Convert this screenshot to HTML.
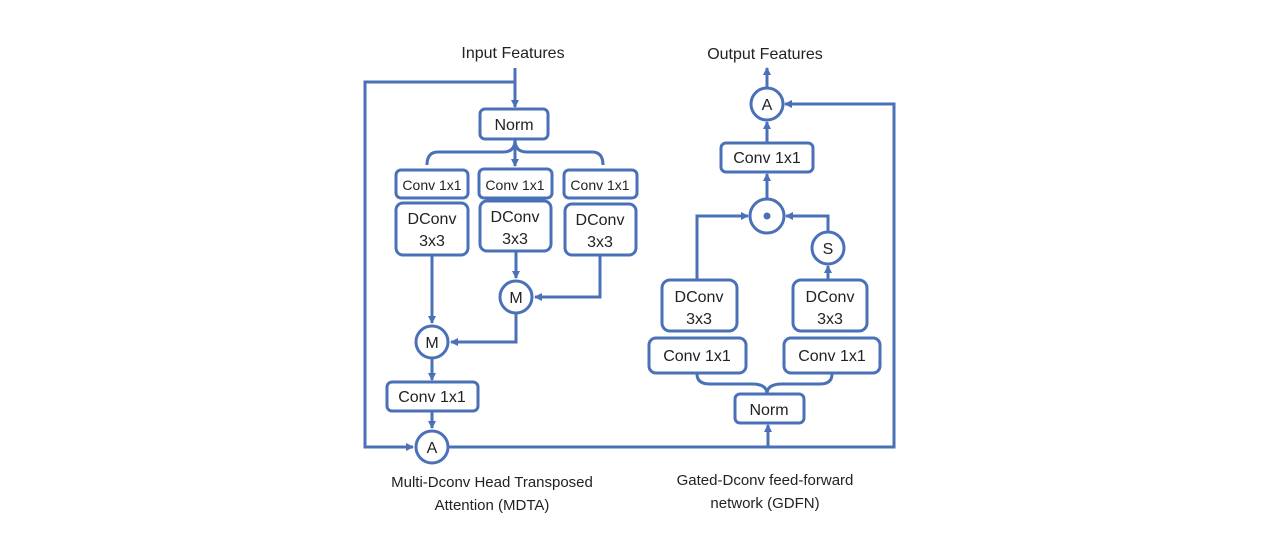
<!DOCTYPE html>
<html><head><meta charset="utf-8"><style>
html,body{margin:0;padding:0;background:#fff;}
svg{display:block;}
text{font-family:"Liberation Sans",sans-serif;fill:#222;}
</style></head><body>
<svg width="1280" height="545" viewBox="0 0 1280 545" xmlns="http://www.w3.org/2000/svg">
<defs>
<marker id="a" markerWidth="8" markerHeight="8" refX="7" refY="4" orient="auto" markerUnits="userSpaceOnUse">
<path d="M0,0 L8,4 L0,8 Z" fill="#4a70b8"/>
</marker>
</defs>
<g stroke="#4a70b8" stroke-width="3" fill="none">
<!-- left part -->
<line x1="515" y1="68" x2="515" y2="107" marker-end="url(#a)"/>
<polyline points="515,82 365,82 365,447 413,447" marker-end="url(#a)"/>
<rect x="480" y="109" width="68" height="30" rx="5" fill="#fff"/>
<path d="M515,140 Q515,152 503,152 L438,152 Q427,152 427,165"/>
<path d="M515,140 Q515,152 527,152 L592,152 Q603,152 603,165"/>
<line x1="515" y1="140" x2="515" y2="166" marker-end="url(#a)"/>
<rect x="396" y="170" width="72" height="28" rx="5" fill="#fff"/>
<rect x="479" y="169" width="73" height="29" rx="5" fill="#fff"/>
<rect x="564" y="170" width="73" height="28" rx="5" fill="#fff"/>
<rect x="396" y="203" width="72" height="52" rx="7" fill="#fff"/>
<rect x="480" y="201" width="71" height="50" rx="7" fill="#fff"/>
<rect x="565" y="204" width="71" height="51" rx="7" fill="#fff"/>
<line x1="432" y1="255" x2="432" y2="323" marker-end="url(#a)"/>
<line x1="516" y1="251" x2="516" y2="278" marker-end="url(#a)"/>
<polyline points="600,255 600,297 535,297" marker-end="url(#a)"/>
<circle cx="516" cy="297" r="16" fill="#fff"/>
<polyline points="516,313 516,342 451,342" marker-end="url(#a)"/>
<circle cx="432" cy="342" r="16" fill="#fff"/>
<line x1="432" y1="358" x2="432" y2="380" marker-end="url(#a)"/>
<rect x="387" y="382" width="91" height="29" rx="5" fill="#fff"/>
<line x1="432" y1="411" x2="432" y2="428" marker-end="url(#a)"/>
<circle cx="432" cy="447" r="16" fill="#fff"/>
<!-- right part -->
<polyline points="448,447 894,447 894,104 785,104" marker-end="url(#a)"/>
<line x1="768" y1="447" x2="768" y2="425" marker-end="url(#a)"/>
<rect x="735" y="394" width="69" height="29" rx="5" fill="#fff"/>
<path d="M697,374 Q697,384 710,384 L752,384 Q767,384 767,394"/>
<path d="M832,374 Q832,384 820,384 L782,384 Q767,384 767,394"/>
<rect x="649" y="338" width="97" height="35" rx="7" fill="#fff"/>
<rect x="784" y="338" width="96" height="35" rx="7" fill="#fff"/>
<rect x="662" y="280" width="75" height="51" rx="8" fill="#fff"/>
<rect x="793" y="280" width="74" height="51" rx="8" fill="#fff"/>
<polyline points="697,280 697,216 748,216" marker-end="url(#a)"/>
<line x1="828" y1="280" x2="828" y2="266" marker-end="url(#a)"/>
<circle cx="828" cy="248" r="16" fill="#fff"/>
<polyline points="828,232 828,216 786,216" marker-end="url(#a)"/>
<circle cx="767" cy="216" r="17" fill="#fff"/>
<line x1="767" y1="199" x2="767" y2="174" marker-end="url(#a)"/>
<rect x="721" y="143" width="92" height="29" rx="5" fill="#fff"/>
<line x1="767" y1="143" x2="767" y2="122" marker-end="url(#a)"/>
<circle cx="767" cy="104" r="16" fill="#fff"/>
<line x1="767" y1="88" x2="767" y2="68" marker-end="url(#a)"/>
</g>
<circle cx="767" cy="216" r="3.5" fill="#4a70b8"/>
<g font-size="16" text-anchor="middle">
<text x="513" y="58">Input Features</text>
<text x="765" y="59">Output Features</text>
<text x="514" y="130">Norm</text>
<text x="432" y="190" font-size="14">Conv 1x1</text>
<text x="515" y="190" font-size="14">Conv 1x1</text>
<text x="600" y="190" font-size="14">Conv 1x1</text>
<text x="432" y="224">DConv</text><text x="432" y="246">3x3</text>
<text x="515" y="222">DConv</text><text x="515" y="244">3x3</text>
<text x="600" y="225">DConv</text><text x="600" y="247">3x3</text>
<text x="516" y="303">M</text>
<text x="432" y="348">M</text>
<text x="432" y="402">Conv 1x1</text>
<text x="432" y="453">A</text>
<text x="492" y="487" font-size="15">Multi-Dconv Head Transposed</text>
<text x="492" y="510" font-size="15">Attention (MDTA)</text>
<text x="767" y="110">A</text>
<text x="767" y="163">Conv 1x1</text>
<text x="828" y="254">S</text>
<text x="699" y="302">DConv</text><text x="699" y="324">3x3</text>
<text x="830" y="302">DConv</text><text x="830" y="324">3x3</text>
<text x="697" y="361">Conv 1x1</text>
<text x="832" y="361">Conv 1x1</text>
<text x="769" y="415">Norm</text>
<text x="765" y="485" font-size="15">Gated-Dconv feed-forward</text>
<text x="765" y="508" font-size="15">network (GDFN)</text>
</g>
</svg>
</body></html>
